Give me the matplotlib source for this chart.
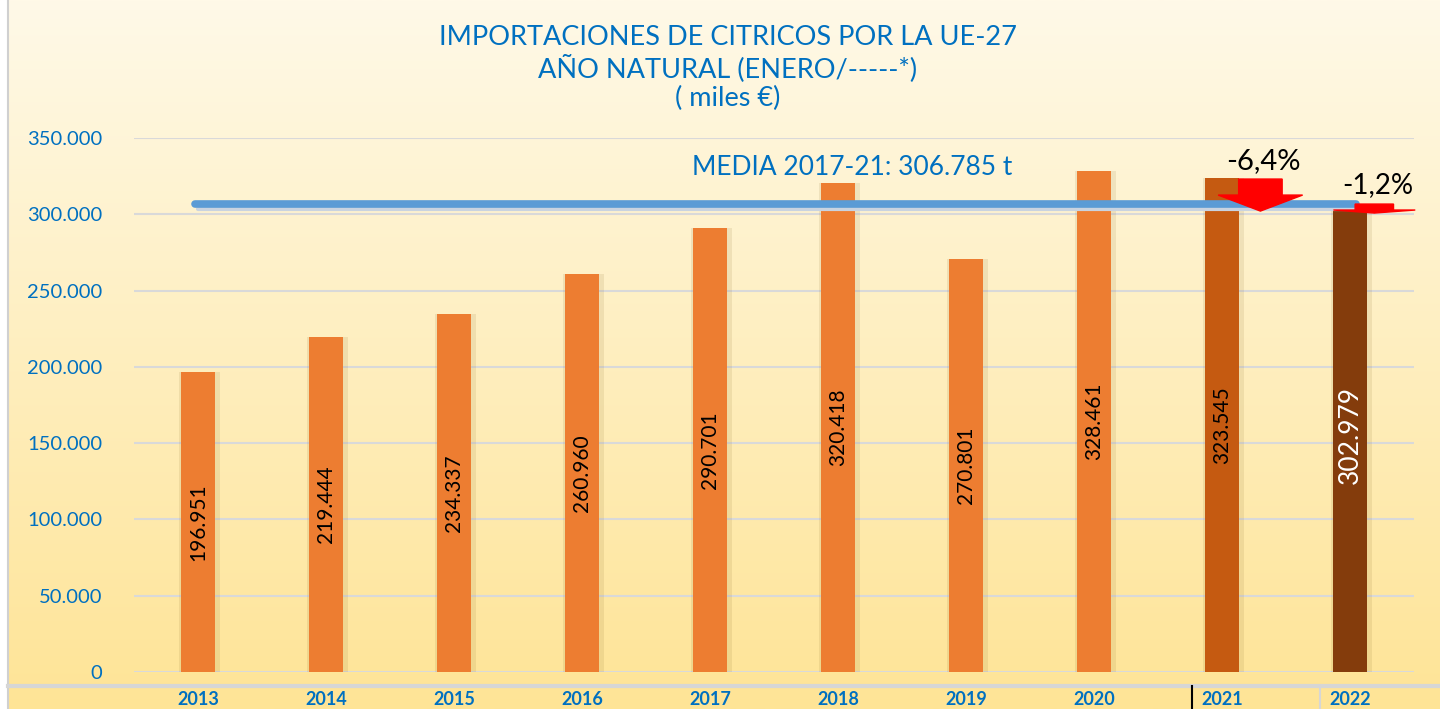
import numpy as np
import matplotlib
matplotlib.use("Agg")
import matplotlib.pyplot as plt
from matplotlib.patches import Polygon

years = ["2013", "2014", "2015", "2016", "2017", "2018", "2019", "2020", "2021", "2022"]
values = [196951, 219444, 234337, 260960, 290701, 320418, 270801, 328461, 323545, 302979]
bar_labels = ["196.951", "219.444", "234.337", "260.960", "290.701", "320.418",
              "270.801", "328.461", "323.545", "302.979"]
media = 306785
media_label = "MEDIA 2017-21: 306.785 t"
changes = ["-6,4%", "-1,2%"]
yticks = [0, 50000, 100000, 150000, 200000, 250000, 300000, 350000]
ytick_labels = ["0", "50.000", "100.000", "150.000", "200.000", "250.000", "300.000", "350.000"]
title = "IMPORTACIONES DE CITRICOS POR LA UE-27\nAÑO NATURAL (ENERO/-----*)\n( miles €)"

BLUE = "#0070C0"
FONT = ["Lato", "DejaVu Sans"]

fig = plt.figure(figsize=(14.4, 7.09), dpi=100)

# background gradient
bg = fig.add_axes([0, 0, 1, 1], zorder=-10)
top = np.array([255, 249, 232]) / 255
bot = np.array([254, 228, 150]) / 255
t = np.linspace(0, 1, 256)[:, None]
grad = top[None, :] * (1 - t) + bot[None, :] * t
bg.imshow(grad[:, None, :], aspect="auto", extent=[0, 1, 0, 1], origin="upper")
bg.axvspan(0, 7 / 1440, color="white")
bg.axvline(8 / 1440, color="#D0D0D0", lw=1.5)
bg.axhline(1 - 686 / 709, xmin=8 / 1440, color="#D6D6D6", lw=3)
bg.plot([1192 / 1440] * 2, [0, 1 - 686 / 709], color="black", lw=1.5)
bg.plot([1320 / 1440] * 2, [0, 1 - 686 / 709], color="#D6D6D6", lw=1.5)
bg.set_xlim(0, 1)
bg.set_ylim(0, 1)
bg.axis("off")

ax = fig.add_axes([134 / 1440, 1 - 672 / 709, 1280 / 1440, 534 / 709])
ax.patch.set_alpha(0)

x = np.arange(len(years))
colors = ["#ED7D31"] * 8 + ["#C55A11", "#843C0C"]
# soft shadow around bars
ax.bar(x + 0.01, values, width=0.32, color="#8a6a2a", alpha=0.12, zorder=2)
ax.bar(x, values, width=0.27, color=colors, zorder=3)

for i, (v, lab) in enumerate(zip(values, bar_labels)):
    if i == len(values) - 1:
        ax.text(i, v / 2 + 4000, lab, rotation=90, ha="center", va="center", color="white",
                fontsize=19, family=FONT, zorder=5)
    else:
        ax.text(i, v / 2, lab, rotation=90, ha="center", va="center", color="black",
                fontsize=15, family=FONT, zorder=5)

# mean line
ax.plot([0, 9.05], [media - 3500, media - 3500], color="#C9D3E0", lw=3, zorder=3.5,
        solid_capstyle="round")
ax.plot([-0.02, 9.05], [media, media], color="#5B9BD5", lw=5.5, zorder=4,
        solid_capstyle="round")
ax.text(5.11, 330500, media_label, ha="center", va="center", color=BLUE,
        fontsize=19, family=FONT)

# red arrows (centre, shaft half width, head half width, shaft top, head base, tip)
arrows = [(8.30, 0.17, 0.33, 323100, 312600, 302100),
          (9.19, 0.15, 0.32, 306700, 302800, 300800)]
for (cx, sw, hw, y0, y1, y2) in arrows:
    pts = [(cx - sw, y0), (cx + sw, y0), (cx + sw, y1), (cx + hw, y1),
           (cx, y2), (cx - hw, y1), (cx - sw, y1)]
    ax.add_patch(Polygon(pts, closed=True, color="#FF0000", zorder=6, clip_on=False))
ax.text(8.32, 334800, changes[0], ha="center", va="center", color="black",
        fontsize=21, family=FONT)
ax.text(9.22, 319000, changes[1], ha="center", va="center", color="black",
        fontsize=20, family=FONT)

ax.set_xlim(-0.5, 9.5)
ax.set_ylim(0, 350000)
ax.set_yticks(yticks)
ax.set_yticklabels(ytick_labels, color=BLUE, fontsize=14.5, family=FONT)
ax.set_xticks(x)
ax.set_xticklabels(years, color=BLUE, fontsize=13, family=FONT, fontweight="bold")
ax.tick_params(axis="both", length=0)
ax.tick_params(axis="y", pad=23)
ax.tick_params(axis="x", pad=14)
ax.grid(axis="y", color="#D9D9D9", lw=1.5, zorder=0)
for s in ax.spines.values():
    s.set_visible(False)

fig.text(728 / 1440, 1 - 68 / 709, title, ha="center", va="center", color=BLUE,
         fontsize=19.5, family=FONT, linespacing=1.18)

fig.savefig("out.png", dpi=100)
